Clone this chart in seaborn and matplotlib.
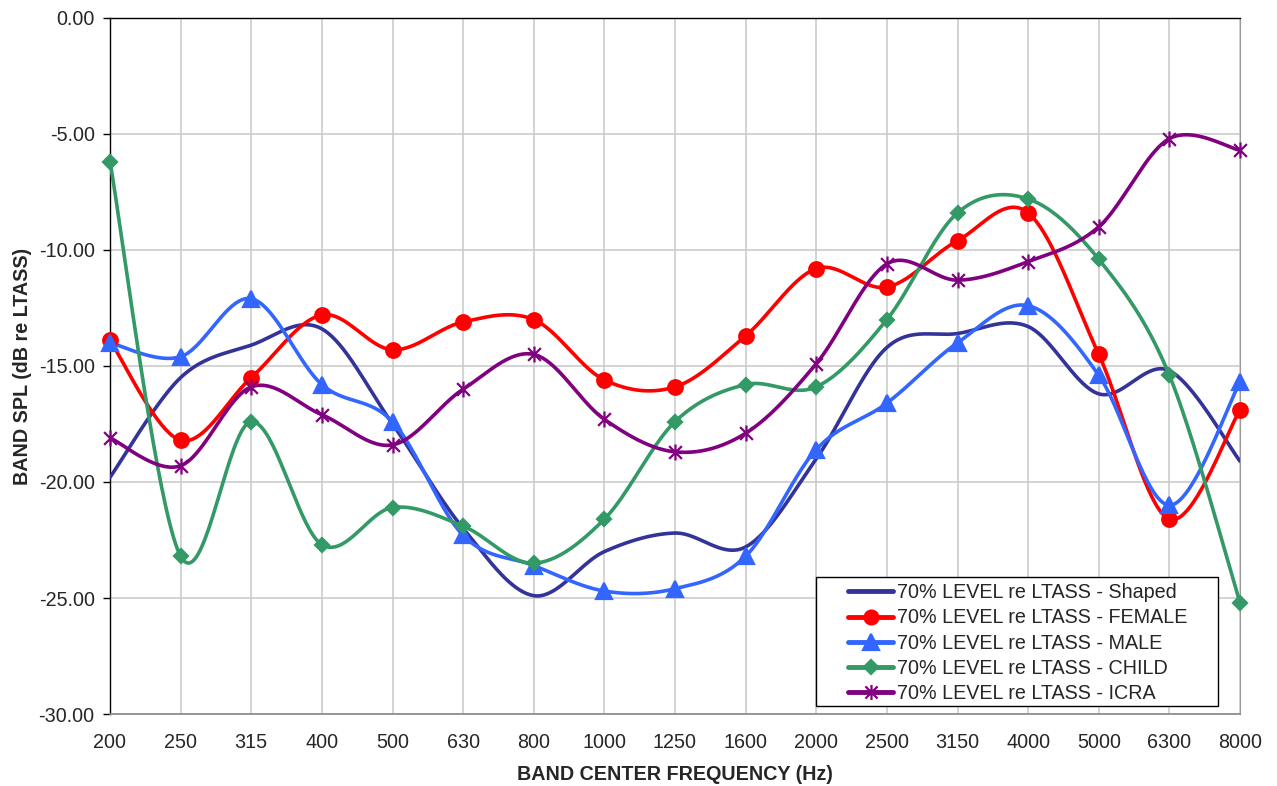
import numpy as np
import pandas as pd
import matplotlib
matplotlib.use("Agg")
import matplotlib.pyplot as plt
from matplotlib.lines import Line2D
from matplotlib.path import Path
from matplotlib.patches import Rectangle
import seaborn as sns

# band centre frequencies (category axis)
freqs = ["200", "250", "315", "400", "500", "630", "800", "1000", "1250",
         "1600", "2000", "2500", "3150", "4000", "5000", "6300", "8000"]

# 70% level re LTASS, dB
shaped = [-19.8, -15.5, -14.1, -13.4, -17.5, -22.0, -24.9, -23.0, -22.2,
          -22.8, -19.0, -14.2, -13.6, -13.3, -16.2, -15.2, -19.1]
female = [-13.9, -18.2, -15.5, -12.8, -14.3, -13.1, -13.0, -15.6, -15.9,
          -13.7, -10.8, -11.6, -9.6, -8.4, -14.5, -21.6, -16.9]
male = [-14.0, -14.6, -12.1, -15.8, -17.4, -22.3, -23.6, -24.7, -24.6,
        -23.2, -18.6, -16.6, -14.0, -12.4, -15.4, -21.0, -15.7]
child = [-6.2, -23.2, -17.4, -22.7, -21.1, -21.9, -23.5, -21.6, -17.4,
         -15.8, -15.9, -13.0, -8.4, -7.8, -10.4, -15.4, -25.2]
icra = [-18.1, -19.3, -15.9, -17.1, -18.4, -16.0, -14.5, -17.3, -18.7,
        -17.9, -14.9, -10.6, -11.3, -10.5, -9.0, -5.2, -5.7]

series_names = ["70% LEVEL re LTASS - Shaped", "70% LEVEL re LTASS - FEMALE",
                "70% LEVEL re LTASS - MALE", "70% LEVEL re LTASS - CHILD",
                "70% LEVEL re LTASS - ICRA"]
series_vals = [shaped, female, male, child, icra]

# excel-like asterisk marker: vertical bar plus an X
star_path = Path([(0, -1), (0, 1), (-0.8, -0.8), (0.8, 0.8), (-0.8, 0.8), (0.8, -0.8)],
                 [Path.MOVETO, Path.LINETO, Path.MOVETO, Path.LINETO, Path.MOVETO, Path.LINETO])

styles = {
    series_names[0]: dict(color="#333399", marker=None, ms=0),
    series_names[1]: dict(color="#FF0000", marker="o", ms=10.5),
    series_names[2]: dict(color="#3366FF", marker="^", ms=11.5),
    series_names[3]: dict(color="#339966", marker="D", ms=7.5),
    series_names[4]: dict(color="#800080", marker=star_path, ms=11.5),
}


def smooth(y, n=40):
    # cubic bezier smoothing similar to excel "smoothed line"
    y = np.asarray(y, float)
    x = np.arange(len(y), dtype=float)
    xs, ys = [], []
    last = len(y) - 1
    for i in range(last):
        prev = max(i - 1, 0)
        nxt = min(i + 2, last)
        c1x = x[i] + (x[i + 1] - x[prev]) / 6
        c1y = y[i] + (y[i + 1] - y[prev]) / 6
        c2x = x[i + 1] - (x[nxt] - x[i]) / 6
        c2y = y[i + 1] - (y[nxt] - y[i]) / 6
        t = np.linspace(0, 1, n, endpoint=(i == last - 1))
        a, b, c, d = (1 - t) ** 3, 3 * (1 - t) ** 2 * t, 3 * (1 - t) * t ** 2, t ** 3
        xs.append(a * x[i] + b * c1x + c * c2x + d * x[i + 1])
        ys.append(a * y[i] + b * c1y + c * c2y + d * y[i + 1])
    return np.concatenate(xs), np.concatenate(ys)


curves = []
points = []
for name, vals in zip(series_names, series_vals):
    sx, sy = smooth(vals)
    curves.append(pd.DataFrame({"x": sx, "y": sy, "series": name}))
    points.append(pd.DataFrame({"x": np.arange(len(freqs)), "y": vals, "series": name}))
curves = pd.concat(curves, ignore_index=True)
points = pd.concat(points, ignore_index=True)

sns.set_style("white")
plt.rcParams["font.family"] = ["Liberation Sans", "DejaVu Sans"]
plt.rcParams["axes.unicode_minus"] = False

fs = 14.2
fig = plt.figure(figsize=(12.77, 7.86), dpi=100)
ax = fig.add_axes([110 / 1277, 1 - 714 / 786, 1130 / 1277, 696 / 786])

palette = {k: v["color"] for k, v in styles.items()}
sns.lineplot(data=curves, x="x", y="y", hue="series", palette=palette, sort=False,
             estimator=None, linewidth=2.6, legend=False, ax=ax, zorder=3)

for name in series_names:
    st = styles[name]
    if st["marker"] is None:
        continue
    sub = points[points["series"] == name]
    ax.plot(sub["x"], sub["y"], linestyle="none", marker=st["marker"], ms=st["ms"],
            color=st["color"], mec=st["color"], mew=1.6, zorder=4, clip_on=False)

ax.set_xlim(0, len(freqs) - 1)
ax.set_ylim(-30, 0)
ax.set_xticks(np.arange(len(freqs)))
ax.set_xticklabels(freqs)
ax.set_yticks(np.arange(-30, 0.1, 5))
ax.set_yticklabels([f"{v:.2f}" for v in np.arange(-30, 0.1, 5)])
ax.grid(True, color="#c8c8c8", linewidth=1.1)
ax.set_axisbelow(True)

for side in ["left", "top"]:
    ax.spines[side].set_color("black")
    ax.spines[side].set_linewidth(1.0)
ax.spines["right"].set_color("#999999")
ax.spines["bottom"].set_color("#888888")
ax.spines["bottom"].set_linewidth(1.2)

ax.tick_params(axis="y", direction="out", length=5, width=1, color="black",
               labelsize=fs, pad=6, left=True)
ax.tick_params(axis="x", length=0, labelsize=fs, pad=14)

ax.set_xlabel("BAND CENTER FREQUENCY (Hz)", fontsize=fs, fontweight="bold", labelpad=9)
ax.set_ylabel("BAND SPL (dB re LTASS)", fontsize=fs, fontweight="bold", labelpad=5)

# legend frame drawn as a plain box, entries placed inside it
ax.add_patch(Rectangle((0.6248, 0.0115), 0.3557, 0.1853, transform=ax.transAxes,
                       facecolor="white", edgecolor="black", linewidth=1.0, zorder=5))
handles = []
for name in series_names:
    st = styles[name]
    handles.append(Line2D([0], [0], color=st["color"], linewidth=3.5,
                          marker=st["marker"], ms=st["ms"] * 0.95, mec=st["color"], mew=1.6))
leg = ax.legend(handles, series_names, loc="upper left", bbox_to_anchor=(0.653, 0.188),
                fontsize=fs, frameon=False, handlelength=2.3, handletextpad=0.2,
                borderpad=0, labelspacing=0.32, borderaxespad=0)
leg.set_zorder(6)

fig.savefig("out.png", dpi=100)
